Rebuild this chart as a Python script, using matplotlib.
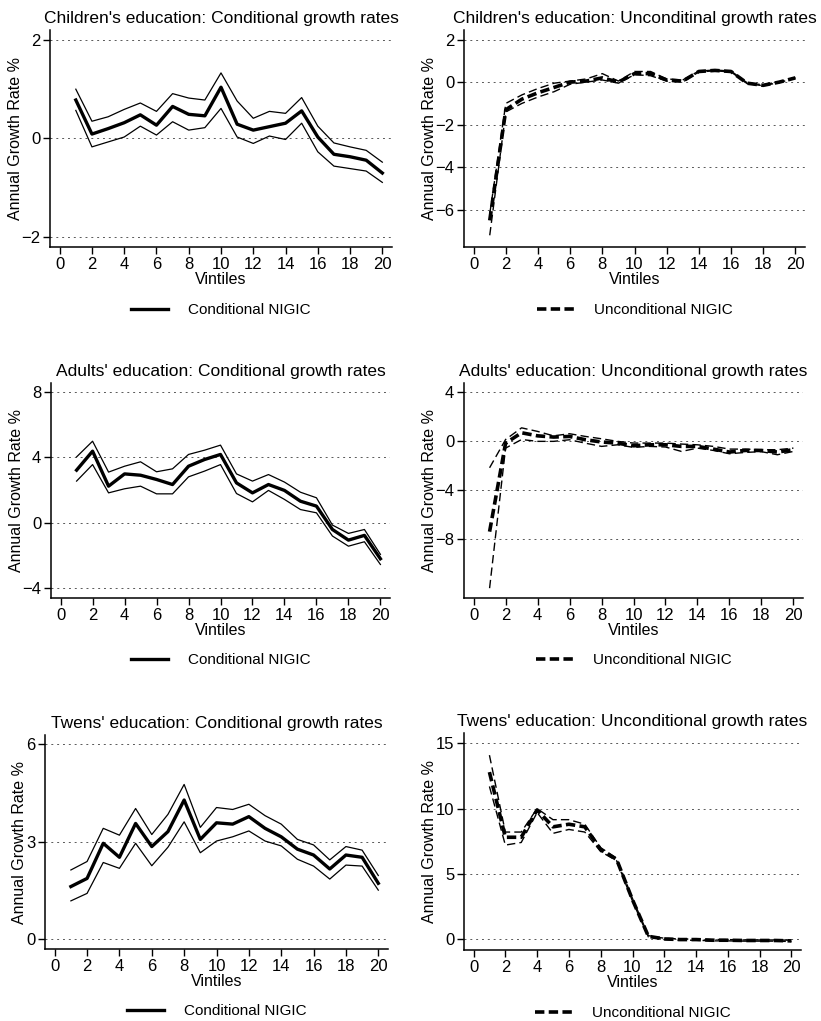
import matplotlib
matplotlib.use("Agg")
import matplotlib.pyplot as plt
import numpy as np

plt.rcParams["font.family"] = ["Liberation Sans", "DejaVu Sans"]

vintiles = list(range(1, 21))

# Children's education, conditional NIGIC (estimate and confidence band)
child_cond = [0.78, 0.09, 0.20, 0.32, 0.48, 0.27, 0.65, 0.49, 0.46, 1.04,
              0.29, 0.17, 0.24, 0.31, 0.56, 0.03, -0.32, -0.37, -0.44, -0.70]
child_cond_hi = [1.00, 0.35, 0.44, 0.59, 0.72, 0.55, 0.91, 0.82, 0.78, 1.33,
                 0.76, 0.41, 0.55, 0.51, 0.83, 0.25, -0.09, -0.17, -0.24, -0.48]
child_cond_lo = [0.57, -0.17, -0.07, 0.03, 0.25, 0.07, 0.34, 0.17, 0.22, 0.61,
                 0.03, -0.10, 0.05, -0.02, 0.31, -0.27, -0.56, -0.61, -0.66, -0.89]

# Children's education, unconditional NIGIC
child_unc = [-6.5, -1.3, -0.8, -0.5, -0.25, 0.0, 0.05, 0.2, 0.0, 0.4,
             0.4, 0.1, 0.05, 0.5, 0.55, 0.5, -0.05, -0.15, 0.0, 0.2]
child_unc_hi = [-6.2, -1.0, -0.6, -0.3, -0.05, 0.05, 0.15, 0.4, 0.05, 0.5,
                0.5, 0.15, 0.1, 0.52, 0.57, 0.52, -0.03, -0.13, 0.02, 0.22]
child_unc_lo = [-7.2, -1.4, -1.0, -0.7, -0.45, -0.1, 0.0, 0.1, -0.05, 0.35,
                0.3, 0.05, 0.0, 0.48, 0.53, 0.48, -0.07, -0.17, -0.02, 0.18]

# Adults' education, conditional NIGIC
adult_cond = [3.22, 4.38, 2.24, 2.99, 2.91, 2.65, 2.34, 3.46, 3.87, 4.18,
              2.44, 1.83, 2.34, 1.98, 1.32, 1.02, -0.41, -1.06, -0.77, -2.20]
adult_cond_hi = [4.03, 4.99, 3.10, 3.46, 3.73, 3.12, 3.30, 4.18, 4.44, 4.75,
                 2.99, 2.55, 2.95, 2.49, 1.87, 1.53, -0.14, -0.65, -0.41, -1.93]
adult_cond_lo = [2.55, 3.56, 1.83, 2.08, 2.24, 1.77, 1.77, 2.81, 3.16, 3.56,
                 1.79, 1.28, 1.98, 1.43, 0.81, 0.61, -0.81, -1.43, -1.16, -2.55]

# Adults' education, unconditional NIGIC
adult_unc = [-7.4, -0.2, 0.65, 0.4, 0.3, 0.35, 0.08, -0.1, -0.2, -0.41,
             -0.33, -0.33, -0.46, -0.46, -0.68, -0.92, -0.79, -0.79, -0.92, -0.73]
adult_unc_hi = [-2.2, 0.1, 1.05, 0.76, 0.4, 0.57, 0.35, 0.16, -0.05, -0.19,
                -0.19, -0.19, -0.27, -0.33, -0.46, -0.68, -0.68, -0.73, -0.73, -0.6]
adult_unc_lo = [-12.0, -0.6, 0.1, -0.05, -0.05, 0.08, -0.2, -0.46, -0.33, -0.54,
                -0.46, -0.51, -0.87, -0.6, -0.79, -1.06, -0.95, -0.89, -1.14, -0.87]

# Twens' education, conditional NIGIC
twen_cond = [1.62, 1.87, 2.95, 2.52, 3.56, 2.85, 3.31, 4.28, 3.07, 3.58,
             3.54, 3.77, 3.41, 3.15, 2.77, 2.59, 2.16, 2.59, 2.52, 1.72]
twen_cond_hi = [2.13, 2.39, 3.41, 3.20, 4.02, 3.22, 3.84, 4.76, 3.44, 4.05,
                3.99, 4.15, 3.80, 3.54, 3.07, 2.90, 2.44, 2.85, 2.74, 1.96]
twen_cond_lo = [1.18, 1.41, 2.36, 2.18, 2.95, 2.26, 2.83, 3.61, 2.66, 3.02,
                3.15, 3.33, 3.02, 2.87, 2.46, 2.25, 1.85, 2.28, 2.25, 1.51]

# Twens' education, unconditional NIGIC
twen_unc = [12.8, 7.8, 7.8, 9.9, 8.6, 8.8, 8.6, 6.85, 6.1, 3.0,
            0.2, 0.0, -0.05, -0.05, -0.1, -0.1, -0.12, -0.12, -0.12, -0.15]
twen_unc_hi = [14.1, 8.2, 8.2, 10.0, 9.15, 9.15, 8.8, 7.0, 6.2, 3.1,
               0.25, 0.05, 0.0, 0.0, -0.05, -0.05, -0.08, -0.08, -0.08, -0.1]
twen_unc_lo = [11.7, 7.2, 7.4, 9.7, 8.1, 8.4, 8.2, 6.7, 6.0, 2.9,
               0.15, -0.05, -0.1, -0.1, -0.15, -0.15, -0.17, -0.17, -0.17, -0.2]

panels = [
    ("Children's education: Conditional growth rates", child_cond, child_cond_hi, child_cond_lo,
     False, [-2, 0, 2], (-2.2, 2.2), (50, 392, 30, 247)),
    ("Children's education: Unconditinal growth rates", child_unc, child_unc_hi, child_unc_lo,
     True, [-6, -4, -2, 0, 2], (-7.75, 2.45), (464, 805, 30, 247)),
    ("Adults' education: Conditional growth rates", adult_cond, adult_cond_hi, adult_cond_lo,
     False, [-4, 0, 4, 8], (-4.6, 8.55), (51, 390, 383, 598)),
    ("Adults' education: Unconditional growth rates", adult_unc, adult_unc_hi, adult_unc_lo,
     True, [-8, -4, 0, 4], (-12.8, 4.7), (464, 803, 383, 598)),
    ("Twens' education: Conditional growth rates", twen_cond, twen_cond_hi, twen_cond_lo,
     False, [0, 3, 6], (-0.3, 6.28), (45, 388, 735, 949)),
    ("Twens' education: Unconditional growth rates", twen_unc, twen_unc_hi, twen_unc_lo,
     True, [0, 5, 10, 15], (-0.85, 15.8), (464, 801, 733, 950)),
]

W, H = 821, 1021
fig = plt.figure(figsize=(W / 100, H / 100), dpi=100)

for title, mid, hi, lo, dashed, yticks, ylim, (l, r, t, b) in panels:
    ax = fig.add_axes([l / W, 1 - b / H, (r - l) / W, (b - t) / H])
    for yv in yticks:
        ax.axhline(yv, color="0.35", lw=0.7, ls=(0, (2, 4)), zorder=1)
    if dashed:
        ax.plot(vintiles, hi, color="black", lw=1.0, ls=(0, (6, 3)), zorder=2)
        ax.plot(vintiles, lo, color="black", lw=1.0, ls=(0, (6, 3)), zorder=2)
        ax.plot(vintiles, mid, color="black", lw=2.6, ls=(0, (2.6, 1.2)), zorder=3,
                label="Unconditional NIGIC")
    else:
        ax.plot(vintiles, hi, color="black", lw=0.9, zorder=2)
        ax.plot(vintiles, lo, color="black", lw=0.9, zorder=2)
        ax.plot(vintiles, mid, color="black", lw=2.4, zorder=3, label="Conditional NIGIC")

    ax.set_xlim(-0.6, 20.6)
    ax.set_ylim(*ylim)
    ax.set_xticks(range(0, 21, 2))
    ax.set_yticks(yticks)
    ax.tick_params(direction="out", length=5, width=1, labelsize=12, pad=2)
    for side in ("top", "right"):
        ax.spines[side].set_visible(False)
    for side in ("left", "bottom"):
        ax.spines[side].set_linewidth(1.1)
    ax.set_title(title, fontsize=12.5, pad=5)
    ax.set_xlabel("Vintiles", fontsize=11.5, labelpad=0)
    ax.set_ylabel("Annual Growth Rate %", fontsize=11.5, labelpad=-1)
    ax.legend(loc="center", bbox_to_anchor=(0.5, -0.29), frameon=False,
              fontsize=11, handlelength=2.42, handletextpad=1.3)

fig.savefig("out.png", dpi=100, facecolor="white")
